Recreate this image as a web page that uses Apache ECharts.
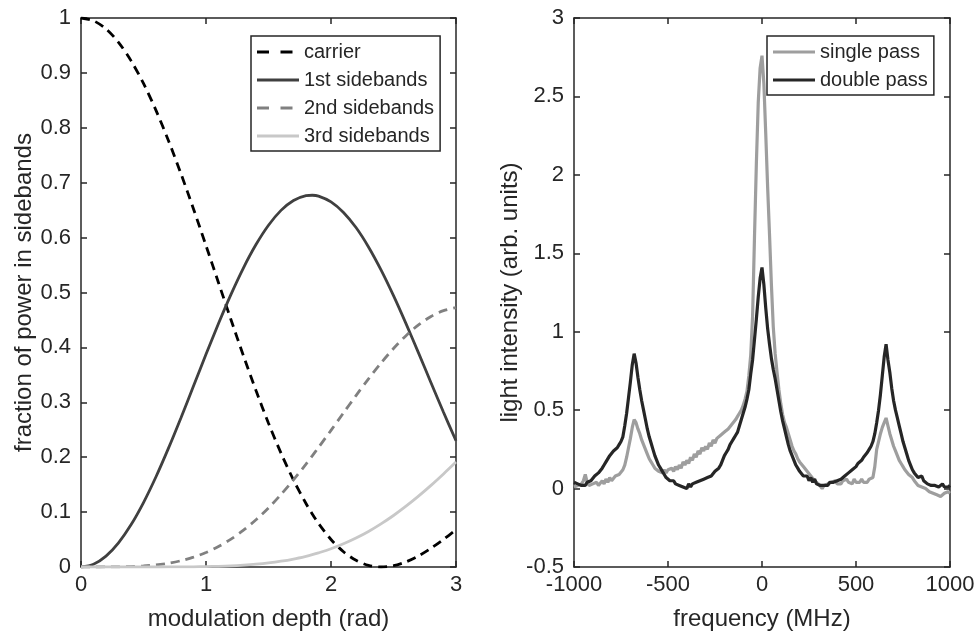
<!DOCTYPE html>
<html><head><meta charset="utf-8">
<script src="https://cdn.jsdelivr.net/npm/echarts@6/dist/echarts.min.js"></script>
<style>html,body{margin:0;padding:0;background:#fff}#c{width:979px;height:641px}</style>
</head><body><div id="c"></div><script>
// ---- left panel: modulation depth (rad)
const depth = [0,0.1,0.2,0.3,0.4,0.5,0.6,0.7,0.8,0.9,1.0,1.1,1.2,1.3,1.4,1.5,1.6,1.7,1.8,1.85,1.9,2.0,2.1,2.2,2.3,2.4,2.5,2.6,2.7,2.8,2.9,3.0];
const carrier = [1.0000,0.9950,0.9801,0.9557,0.9224,0.8808,0.8317,0.7765,0.7162,0.6521,0.5855,0.5178,0.4504,0.3845,0.3214,0.2619,0.2074,0.1584,0.1156,0.0967,0.0794,0.0501,0.0278,0.0122,0.0031,0.0000,0.0023,0.0094,0.0203,0.0342,0.0503,0.0677];
const side1 = [0,0.0050,0.0198,0.0440,0.0768,0.1174,0.1644,0.2165,0.2720,0.3295,0.3874,0.4435,0.4966,0.5450,0.5873,0.6225,0.6496,0.6677,0.6763,0.6771,0.6756,0.6652,0.6459,0.6183,0.5830,0.5412,0.4942,0.4433,0.3900,0.3357,0.2819,0.2300];
const side2 = [0,0.0000,0.0001,0.0003,0.0008,0.0019,0.0038,0.0069,0.0115,0.0179,0.0264,0.0373,0.0508,0.0670,0.0860,0.1077,0.1321,0.1587,0.1874,0.2024,0.2177,0.2489,0.2807,0.3122,0.3426,0.3715,0.3980,0.4214,0.4411,0.4564,0.4670,0.4726];
const side3 = [0,0,0,0,0,0,0,0.0001,0.0002,0.0004,0.0008,0.0013,0.0021,0.0034,0.0051,0.0074,0.0105,0.0145,0.0195,0.0224,0.0257,0.0332,0.0422,0.0527,0.0647,0.0785,0.0938,0.1108,0.1291,0.1487,0.1695,0.1911];

// ---- right panel: frequency (MHz)
const freq = [
-1000,-990,-980,-970,-960,-950,-940,-930,-920,-910,
-900,-890,-880,-870,-860,-850,-840,-830,-820,-810,
-800,-790,-780,-770,-760,-750,-740,-730,-720,-710,
-700,-690,-680,-670,-660,-650,-640,-630,-620,-610,
-600,-590,-580,-570,-560,-550,-540,-530,-520,-510,
-500,-490,-480,-470,-460,-450,-440,-430,-420,-410,
-400,-390,-380,-370,-360,-350,-340,-330,-320,-310,
-300,-290,-280,-270,-260,-250,-240,-230,-220,-210,
-200,-190,-180,-170,-160,-150,-140,-130,-120,-110,
-100,-90,-80,-70,-60,-50,-40,-30,-20,-10,
0,10,20,30,40,50,60,70,80,90,
100,110,120,130,140,150,160,170,180,190,
200,210,220,230,240,250,260,270,280,290,
300,310,320,330,340,350,360,370,380,390,
400,410,420,430,440,450,460,470,480,490,
500,510,520,530,540,550,560,570,580,590,
600,610,620,630,640,650,660,670,680,690,
700,710,720,730,740,750,760,770,780,790,
800,810,820,830,840,850,860,870,880,890,
900,910,920,930,940,950,960,970,980,990,
1000];
const singlePass = [
0.01,0.00,0.02,0.01,0.03,0.05,0.09,0.04,0.02,0.01,
0.03,0.02,0.04,0.02,0.03,0.05,0.03,0.06,0.04,0.07,
0.05,0.06,0.08,0.07,0.09,0.10,0.12,0.15,0.20,0.26,
0.32,0.39,0.44,0.42,0.38,0.35,0.31,0.28,0.25,0.22,
0.19,0.17,0.15,0.13,0.14,0.11,0.12,0.10,0.12,0.10,
0.12,0.11,0.13,0.11,0.14,0.12,0.15,0.13,0.17,0.15,
0.18,0.16,0.20,0.18,0.22,0.20,0.24,0.22,0.26,0.24,
0.27,0.25,0.29,0.27,0.31,0.29,0.32,0.31,0.34,0.33,
0.36,0.35,0.38,0.39,0.41,0.42,0.44,0.46,0.48,0.50,
0.53,0.57,0.62,0.72,0.85,1.10,1.60,2.07,2.46,2.68,
2.76,2.58,2.26,1.92,1.62,1.30,1.03,0.86,0.74,0.63,
0.54,0.47,0.42,0.39,0.35,0.31,0.27,0.24,0.22,0.19,
0.17,0.16,0.14,0.13,0.11,0.12,0.08,0.09,0.05,0.06,
0.03,0.02,0.00,0.02,0.01,0.03,0.02,0.04,0.03,0.05,
0.03,0.04,0.03,0.05,0.04,0.06,0.04,0.05,0.03,0.06,
0.04,0.05,0.04,0.06,0.04,0.05,0.04,0.06,0.05,0.07,
0.14,0.25,0.30,0.35,0.39,0.42,0.45,0.40,0.35,0.31,
0.27,0.24,0.21,0.18,0.16,0.14,0.12,0.11,0.09,0.08,
0.07,0.05,0.04,0.02,0.03,0.01,0.02,0.00,-0.01,-0.02,
-0.01,-0.03,-0.02,-0.04,-0.03,-0.05,-0.04,-0.03,-0.04,-0.02,
-0.03];
const doublePass = [
0.04,0.05,0.03,0.04,0.02,0.03,0.02,0.04,0.03,0.05,
0.06,0.08,0.07,0.10,0.11,0.13,0.15,0.17,0.18,0.21,
0.22,0.24,0.25,0.26,0.28,0.30,0.33,0.40,0.48,0.58,
0.68,0.79,0.86,0.80,0.71,0.63,0.56,0.50,0.44,0.38,
0.33,0.29,0.25,0.21,0.18,0.15,0.13,0.11,0.09,0.07,
0.06,0.05,0.04,0.05,0.03,0.04,0.02,0.03,0.01,0.02,
0.00,0.03,0.01,0.03,0.02,0.04,0.03,0.05,0.04,0.06,
0.05,0.07,0.06,0.08,0.09,0.11,0.12,0.13,0.15,0.18,
0.21,0.23,0.25,0.28,0.30,0.32,0.34,0.36,0.40,0.44,
0.48,0.52,0.57,0.63,0.73,0.82,0.95,1.08,1.22,1.34,
1.41,1.30,1.15,1.02,0.92,0.83,0.76,0.70,0.63,0.56,
0.49,0.43,0.38,0.33,0.28,0.24,0.21,0.18,0.15,0.13,
0.11,0.10,0.08,0.07,0.08,0.05,0.07,0.04,0.06,0.03,
0.04,0.02,0.03,0.02,0.03,0.02,0.04,0.03,0.04,0.03,
0.05,0.04,0.06,0.06,0.08,0.08,0.10,0.11,0.12,0.13,
0.14,0.16,0.17,0.18,0.20,0.21,0.23,0.25,0.27,0.30,
0.35,0.42,0.50,0.60,0.72,0.84,0.92,0.82,0.74,0.64,
0.56,0.50,0.45,0.40,0.35,0.30,0.26,0.22,0.18,0.15,
0.12,0.10,0.09,0.07,0.06,0.08,0.05,0.06,0.03,0.04,
0.02,0.03,0.02,0.03,0.01,0.02,0.03,0.01,0.02,0.01,
0.02];

const FONT = '"Liberation Sans", Arial, Helvetica, sans-serif';
const AX = '#262626';
const fmt = v => String(Math.round(v * 100) / 100);
const SOLID_ICON = 'path://M0,0h42v3h-42z';
const DASH_ICON = 'path://M0,0h12v3h-12z M23.5,0h12v3h-12z M41.9,1.45h0.1v0.1h-0.1z';

function axis(extra, showLabel) {
  return Object.assign({
    type: 'value',
    axisLine: { show: true, onZero: false, lineStyle: { color: AX, width: 1.5 } },
    axisTick: { show: true, inside: true, length: 6, lineStyle: { color: AX, width: 1.5 } },
    splitLine: { show: false },
    axisLabel: { show: showLabel, color: AX, fontSize: 22, fontFamily: FONT, formatter: fmt },
    nameTextStyle: { color: AX, fontSize: 24, fontFamily: FONT },
    nameLocation: 'middle'
  }, extra);
}
const lbl = m => ({ show: true, color: AX, fontSize: 22, fontFamily: FONT, formatter: fmt, margin: m });
const pairs = (xs, ys) => xs.map((x, i) => [x, ys[i]]);
const legendBase = {
  orient: 'vertical', itemWidth: 42, itemHeight: 3, itemGap: 8,
  padding: [6, 6, 5, 6], borderColor: AX, borderWidth: 1.5, backgroundColor: '#fff',
  selectedMode: false, align: 'left', itemStyle: { borderWidth: 0 },
  textStyle: { color: AX, fontSize: 20, fontFamily: FONT, lineHeight: 20 }
};

const chart = echarts.init(document.getElementById('c'), null, { renderer: 'canvas' });
chart.setOption({
  animation: false,
  backgroundColor: '#fff',
  grid: [
    { left: 81, top: 18, width: 375, height: 549 },
    { left: 574, top: 18, width: 376, height: 549 }
  ],
  xAxis: [
    axis({ gridIndex: 0, position: 'bottom', min: 0, max: 3, interval: 1, name: 'modulation depth (rad)', nameGap: 40, axisLabel: lbl(7) }, true),
    axis({ gridIndex: 0, position: 'top', min: 0, max: 3, interval: 1 }, false),
    axis({ gridIndex: 1, position: 'bottom', min: -1000, max: 1000, interval: 500, name: 'frequency (MHz)', nameGap: 40, axisLabel: lbl(7) }, true),
    axis({ gridIndex: 1, position: 'top', min: -1000, max: 1000, interval: 500 }, false)
  ],
  yAxis: [
    axis({ gridIndex: 0, position: 'left', min: 0, max: 1, interval: 0.1, name: 'fraction of power in sidebands', nameGap: 44, axisLabel: lbl(10) }, true),
    axis({ gridIndex: 0, position: 'right', min: 0, max: 1, interval: 0.1 }, false),
    axis({ gridIndex: 1, position: 'left', min: -0.5, max: 3, interval: 0.5, name: 'light intensity (arb. units)', nameGap: 52, axisLabel: lbl(10) }, true),
    axis({ gridIndex: 1, position: 'right', min: -0.5, max: 3, interval: 0.5 }, false)
  ],
  legend: [
    Object.assign({}, legendBase, {
      left: 251, top: 36,
      data: [
        { name: 'carrier', icon: DASH_ICON },
        { name: '1st sidebands', icon: SOLID_ICON },
        { name: '2nd sidebands', icon: DASH_ICON },
        { name: '3rd sidebands', icon: SOLID_ICON }
      ]
    }),
    Object.assign({}, legendBase, {
      left: 767, top: 36,
      data: [
        { name: 'single pass', icon: SOLID_ICON },
        { name: 'double pass', icon: SOLID_ICON }
      ]
    })
  ],
  series: [
    { name: 'carrier', type: 'line', xAxisIndex: 0, yAxisIndex: 0, data: pairs(depth, carrier), symbol: 'none', smooth: 0.3,
      lineStyle: { color: '#000000', width: 2.8, type: [9, 6] }, itemStyle: { color: '#000000' } },
    { name: '1st sidebands', type: 'line', xAxisIndex: 0, yAxisIndex: 0, data: pairs(depth, side1), symbol: 'none', smooth: 0.3,
      lineStyle: { color: '#404040', width: 2.8 }, itemStyle: { color: '#404040' } },
    { name: '2nd sidebands', type: 'line', xAxisIndex: 0, yAxisIndex: 0, data: pairs(depth, side2), symbol: 'none', smooth: 0.3,
      lineStyle: { color: '#808080', width: 2.8, type: [9, 6] }, itemStyle: { color: '#808080' } },
    { name: '3rd sidebands', type: 'line', xAxisIndex: 0, yAxisIndex: 0, data: pairs(depth, side3), symbol: 'none', smooth: 0.3,
      lineStyle: { color: '#c8c8c8', width: 2.8 }, itemStyle: { color: '#c8c8c8' } },
    { name: 'single pass', type: 'line', xAxisIndex: 2, yAxisIndex: 2, data: pairs(freq, singlePass), symbol: 'none',
      lineStyle: { color: '#9e9e9e', width: 3.2 }, itemStyle: { color: '#9e9e9e' } },
    { name: 'double pass', type: 'line', xAxisIndex: 2, yAxisIndex: 2, data: pairs(freq, doublePass), symbol: 'none',
      lineStyle: { color: '#262626', width: 3.2 }, itemStyle: { color: '#262626' } }
  ]
});
</script></body></html>
